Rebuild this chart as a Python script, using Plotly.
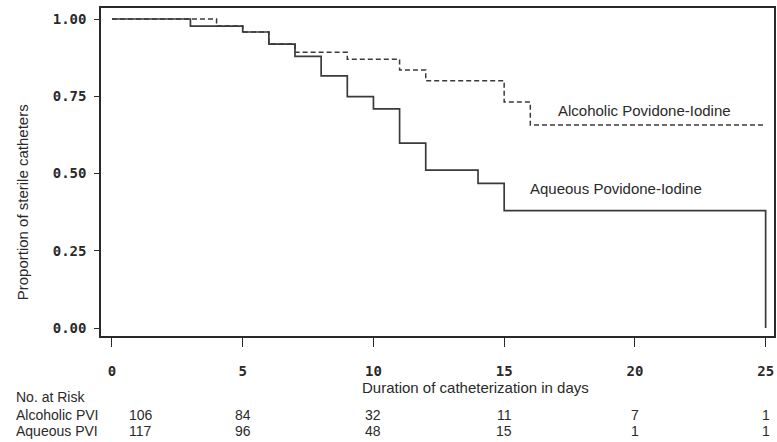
import plotly.graph_objects as go

# Kaplan-Meier estimates (step functions), days vs proportion sterile
aqueous_days = [0, 3, 5, 6, 7, 8, 9, 10, 11, 12, 14, 15, 25]
aqueous_surv = [1.0, 0.977, 0.958, 0.919, 0.879, 0.816, 0.749, 0.709, 0.598, 0.511, 0.468, 0.380, 0.0]

alcoholic_days = [0, 4, 5, 6, 7, 9, 11, 12, 15, 16, 24.9]
alcoholic_surv = [1.0, 0.977, 0.958, 0.919, 0.892, 0.870, 0.835, 0.800, 0.731, 0.657, 0.657]

# Numbers at risk table
risk_days = [1.1, 5, 10, 15, 20, 25]
risk_alcoholic = [106, 84, 32, 11, 7, 1]
risk_aqueous = [117, 96, 48, 15, 1, 1]

x_ticks = [0, 5, 10, 15, 20, 25]
y_ticks = [0.0, 0.25, 0.50, 0.75, 1.00]

INK = "#2a2a2a"
SANS = "Liberation Sans, Arial, sans-serif"
TXT = dict(family=SANS, size=15, color=INK)
TABLE_TXT = dict(family=SANS, size=14, color=INK)

fig = go.Figure()
fig.add_trace(go.Scatter(
    x=aqueous_days, y=aqueous_surv, mode="lines", line_shape="hv",
    line=dict(color="#3a3a3a", width=1.7), showlegend=False, hoverinfo="skip"))
fig.add_trace(go.Scatter(
    x=alcoholic_days, y=alcoholic_surv, mode="lines", line_shape="hv",
    line=dict(color="#3a3a3a", width=1.5, dash="5px,3px"), showlegend=False, hoverinfo="skip"))

annotations = [
    dict(x=17.0, y=0.705, xref="x", yref="y", text="Alcoholic Povidone-Iodine",
         xanchor="left", yanchor="middle", showarrow=False, font=TXT),
    dict(x=15.9, y=0.453, xref="x", yref="y", text="Aqueous Povidone-Iodine",
         xanchor="left", yanchor="middle", showarrow=False, font=TXT),
    dict(x=-0.117, y=0.4085, xref="paper", yref="paper", text="Proportion of sterile catheters",
         textangle=-90, xanchor="center", yanchor="middle", showarrow=False, font=TXT),
    dict(x=0.557, y=-0.158, xref="paper", yref="paper", text="Duration of catheterization in days",
         xanchor="center", yanchor="middle", showarrow=False, font=TXT),
]

# at-risk table rows
ROW = dict(xanchor="left", yanchor="middle", showarrow=False, font=TABLE_TXT, borderpad=0)
NUM = dict(xanchor="center", yanchor="middle", showarrow=False, font=TABLE_TXT, borderpad=0)

row_y = {"head": -0.186, "alc": -0.2409, "aq": -0.2896}
for key, label in (("head", "No. at Risk"), ("alc", "Alcoholic PVI"), ("aq", "Aqueous PVI")):
    annotations.append(dict(x=-0.1274, y=row_y[key], xref="paper", yref="paper", text=label, **ROW))
for d, a, q in zip(risk_days, risk_alcoholic, risk_aqueous):
    annotations.append(dict(x=d, y=row_y["alc"], xref="x", yref="paper", text=str(a), **NUM))
    annotations.append(dict(x=d, y=row_y["aq"], xref="x", yref="paper", text=str(q), **NUM))

tickfont = dict(family="DejaVu Sans Mono", size=14, color=INK, weight="bold")

fig.update_layout(
    width=777, height=442,
    margin=dict(l=101, r=1, t=8, b=106),
    paper_bgcolor="white", plot_bgcolor="white",
    annotations=annotations,
    xaxis=dict(range=[-0.42, 25.32], tickvals=x_ticks, ticktext=[str(t) for t in x_ticks],
               ticks="outside", ticklen=9, tickwidth=1.2, tickcolor=INK,
               showline=True, linecolor=INK, linewidth=1.5, mirror=True,
               showgrid=False, zeroline=False, tickfont=tickfont, ticklabelstandoff=12),
    yaxis=dict(range=[-0.0259, 1.0356], tickvals=y_ticks, tickformat=".2f",
               ticks="outside", ticklen=5, tickwidth=1.2, tickcolor=INK,
               showline=True, linecolor=INK, linewidth=1.5, mirror=True,
               showgrid=False, zeroline=False, tickfont=tickfont, ticklabelstandoff=5),
)

fig.write_html("out.html")
